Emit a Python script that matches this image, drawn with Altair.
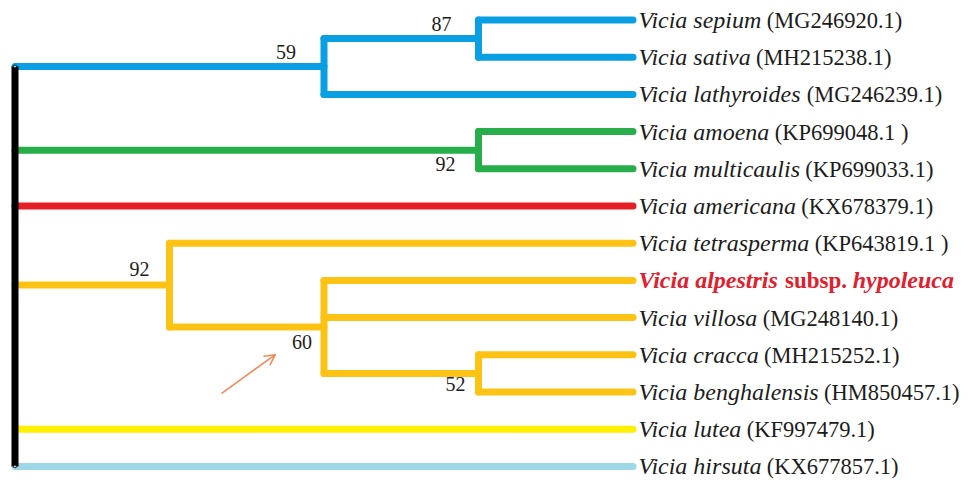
import math
import altair as alt
import pandas as pd

# ---------------- data ----------------
species = ["Vicia sepium", "Vicia sativa", "Vicia lathyroides", "Vicia amoena",
           "Vicia multicaulis", "Vicia americana", "Vicia tetrasperma",
           "Vicia alpestris", "Vicia villosa", "Vicia cracca",
           "Vicia benghalensis", "Vicia lutea", "Vicia hirsuta"]
accessions = ["(MG246920.1)", "(MH215238.1)", "(MG246239.1)", "(KP699048.1 )",
              "(KP699033.1)", "(KX678379.1)", "(KP643819.1 )", "",
              "(MG248140.1)", "(MH215252.1)", "(HM850457.1)", "(KF997479.1)",
              "(KX677857.1)"]
highlight_leaf = 7
highlight_parts = [("Vicia alpestris", "bi"), (" subsp. ", "b"), ("hypoleuca", "bi")]

clade_of_leaf = ["blue", "blue", "blue", "green", "green", "red", "orange",
                 "orange", "orange", "orange", "orange", "yellow", "lightblue"]

node_ids = ["n87", "n59", "nG", "n52", "n60", "n92"]
node_children = [[0, 1], ["n87", 2], [3, 4], [9, 10], [7, 8, "n52"], [6, "n60"]]
node_depth = [3, 2, 3, 3, 2, 1]
node_support = [87, 59, 92, 52, 60, 92]
root_children = ["n59", "nG", 5, "n92", 11, 12]
LEAF_DEPTH = 4

arrow_start = (1.34, 10.03)
arrow_end = (1.683, 9.0)

# ---------------- styles / layout ----------------
clade_colors = {"blue": "#0A9FE2", "green": "#27AE4A", "red": "#E51E25",
                "orange": "#FDC314", "yellow": "#FFF000", "lightblue": "#9DD7E8"}
ROOT_COLOR = "#000000"
TEXT_COLOR = "#1c1c1c"
HIGHLIGHT_COLOR = "#E0202E"
ARROW_COLOR = "#F08A5C"
FONT = "Liberation Serif"
FS = {"i": 24, "r": 22.5, "b": 23, "bi": 24}
JOIN = 3.5      # px between species name and accession
GAP = 5.5       # px between branch tip and label
W, H = 955, 470
PX_X, X0 = 154.5, 7.0
PX_Y, Y0 = 37.2, 12.0
label_offsets = {"n87": (-37, -14), "n59": (-38, -14), "nG": (-33, 15),
                 "n92": (-30, -15), "n60": (-22, 16), "n52": (-23, 12)}
HEAD_LEN, HEAD_ANG = 11.0, 28.0

# Times / Liberation Serif advance widths (per 1000 em)
W_REG = {"(": 333, ")": 333, ".": 250, " ": 250, "M": 889, "G": 722, "H": 722,
         "K": 722, "P": 556, "X": 722, "F": 556}
for d in "0123456789":
    W_REG[d] = 500
W_IT = {"a": 500, "b": 500, "c": 444, "d": 500, "e": 444, "g": 500, "h": 500,
        "i": 278, "l": 278, "m": 722, "n": 500, "o": 500, "p": 500, "r": 389,
        "s": 389, "t": 278, "u": 500, "v": 444, "y": 444, "V": 611, " ": 250}
W_B = {"s": 389, "u": 556, "b": 556, "p": 556, ".": 250, " ": 250}
W_BI = {"V": 667, "i": 278, "c": 444, "a": 500, " ": 250, "l": 278, "p": 500,
        "e": 444, "s": 389, "t": 278, "r": 389, "h": 556, "y": 444, "o": 500,
        "u": 556}
TABLES = {"r": W_REG, "i": W_IT, "b": W_B, "bi": W_BI}


def text_w(s, style):
    t = TABLES[style]
    return sum(t.get(ch, 500) for ch in s) * FS[style] / 1000.0


# ---------------- tree geometry ----------------
nodes = {nid: (ch, dp) for nid, ch, dp in zip(node_ids, node_children, node_depth)}
nodes["root"] = (root_children, 0)


def ypos(n):
    if isinstance(n, int):
        return float(n)
    ys = [ypos(c) for c in nodes[n][0]]
    return (min(ys) + max(ys)) / 2.0


def depth(n):
    return LEAF_DEPTH if isinstance(n, int) else nodes[n][1]


def clade(n):
    while not isinstance(n, int):
        n = nodes[n][0][0]
    return clade_colors[clade_of_leaf[n]]


segs = []
for nid, (children, dp) in nodes.items():
    cys = [ypos(c) for c in children]
    col = ROOT_COLOR if nid == "root" else clade(nid)
    for c in children:
        segs.append(dict(x=dp, x2=depth(c), y=ypos(c), y2=ypos(c), color=clade(c), order=1))
    segs.append(dict(x=dp, x2=dp, y=min(cys), y2=max(cys), color=col,
                     order=2 if nid == "root" else 1))
seg_df = pd.DataFrame(segs)
seg_col = seg_df[seg_df.order == 1]
seg_root = seg_df[seg_df.order == 2]

root_ends = pd.DataFrame({"x": [0, 0], "y": [seg_root.y.iloc[0], seg_root.y2.iloc[0]]})

# support labels
sup = []
for nid, s in zip(node_ids, node_support):
    dx, dy = label_offsets[nid]
    sup.append(dict(x=nodes[nid][1] + dx / PX_X, y=ypos(nid) + dy / PX_Y, text=str(s)))
sup_df = pd.DataFrame(sup)

# leaf labels (pieces placed one after another using font advance widths)
pieces = []
for i, (sp, acc) in enumerate(zip(species, accessions)):
    x_px = GAP
    if i == highlight_leaf:
        parts = highlight_parts
        col = HIGHLIGHT_COLOR
    else:
        parts = [(sp, "i"), (acc, "r")]
        col = TEXT_COLOR
    for k, (txt, st) in enumerate(parts):
        lead = len(txt) - len(txt.lstrip())
        core = txt.strip()
        if core:
            x0 = x_px + text_w(txt[:lead], st)
            pieces.append(dict(x=LEAF_DEPTH + x0 / PX_X, y=float(i), text=core,
                               style=st, color=col))
        x_px += text_w(txt, st)
        if i != highlight_leaf and k == 0:
            x_px += JOIN
lab_df = pd.DataFrame(pieces)

# arrow (shaft + two head strokes, computed in data units)
ax, ay = arrow_start
bx, by = arrow_end
vx, vy = (ax - bx) * PX_X, (ay - by) * PX_Y * -1
L = math.hypot(vx, vy)
ux, uy = vx / L, vy / L
arrow_rows = [dict(x=ax, y=ay, x2=bx, y2=by)]
for sgn in (1, -1):
    a = math.radians(HEAD_ANG * sgn)
    rx = ux * math.cos(a) - uy * math.sin(a)
    ry = ux * math.sin(a) + uy * math.cos(a)
    arrow_rows.append(dict(x=bx, y=by, x2=bx + rx * HEAD_LEN / PX_X,
                           y2=by - ry * HEAD_LEN / PX_Y))
arrow_df = pd.DataFrame(arrow_rows)

# ---------------- scales ----------------
xs = alt.Scale(domain=[-X0 / PX_X, (W - X0) / PX_X], nice=False, zero=False)
ys = alt.Scale(domain=[-Y0 / PX_Y, (H - Y0) / PX_Y], nice=False, zero=False, reverse=True)
X = lambda f: alt.X(f, type="quantitative", scale=xs, axis=None)
Y = lambda f: alt.Y(f, type="quantitative", scale=ys, axis=None)

branches = alt.Chart(seg_col).mark_rule(strokeWidth=7, strokeCap="round").encode(
    x=X("x"), x2="x2", y=Y("y"), y2="y2", color=alt.Color("color:N", scale=None))
rootline = alt.Chart(seg_root).mark_rule(strokeWidth=7, strokeCap="butt").encode(
    x=X("x"), x2="x2", y=Y("y"), y2="y2", color=alt.Color("color:N", scale=None))
rootdots = alt.Chart(root_ends).mark_point(shape="square", size=6, filled=True,
                                           fill="white", stroke="black",
                                           strokeWidth=0.8, opacity=1).encode(
    x=X("x"), y=Y("y"))

supports = alt.Chart(sup_df).mark_text(font=FONT, fontSize=20, color=TEXT_COLOR,
                                       align="center", baseline="middle").encode(
    x=X("x"), y=Y("y"), text="text:N")

style_props = {"i": dict(fontStyle="italic", fontWeight="normal"),
               "r": dict(fontStyle="normal", fontWeight="normal"),
               "b": dict(fontStyle="normal", fontWeight="bold"),
               "bi": dict(fontStyle="italic", fontWeight="bold")}
label_layers = []
for st, props in style_props.items():
    sub = lab_df[lab_df["style"] == st]
    if len(sub):
        label_layers.append(
            alt.Chart(sub).mark_text(font=FONT, fontSize=FS[st], align="left",
                                     baseline="middle", dy=1, **props).encode(
                x=X("x"), y=Y("y"), text="text:N",
                color=alt.Color("color:N", scale=None)))

arrow = alt.Chart(arrow_df).mark_rule(strokeWidth=1.6, color=ARROW_COLOR,
                                      strokeCap="round").encode(
    x=X("x"), x2="x2", y=Y("y"), y2="y2")

chart = alt.layer(branches, rootline, rootdots, supports, *label_layers, arrow).properties(
    width=W, height=H, padding=0, autosize=alt.AutoSizeParams(type="none")
).configure_view(stroke=None)

chart.save("out.html", embed_options={"renderer": "svg", "actions": False})
